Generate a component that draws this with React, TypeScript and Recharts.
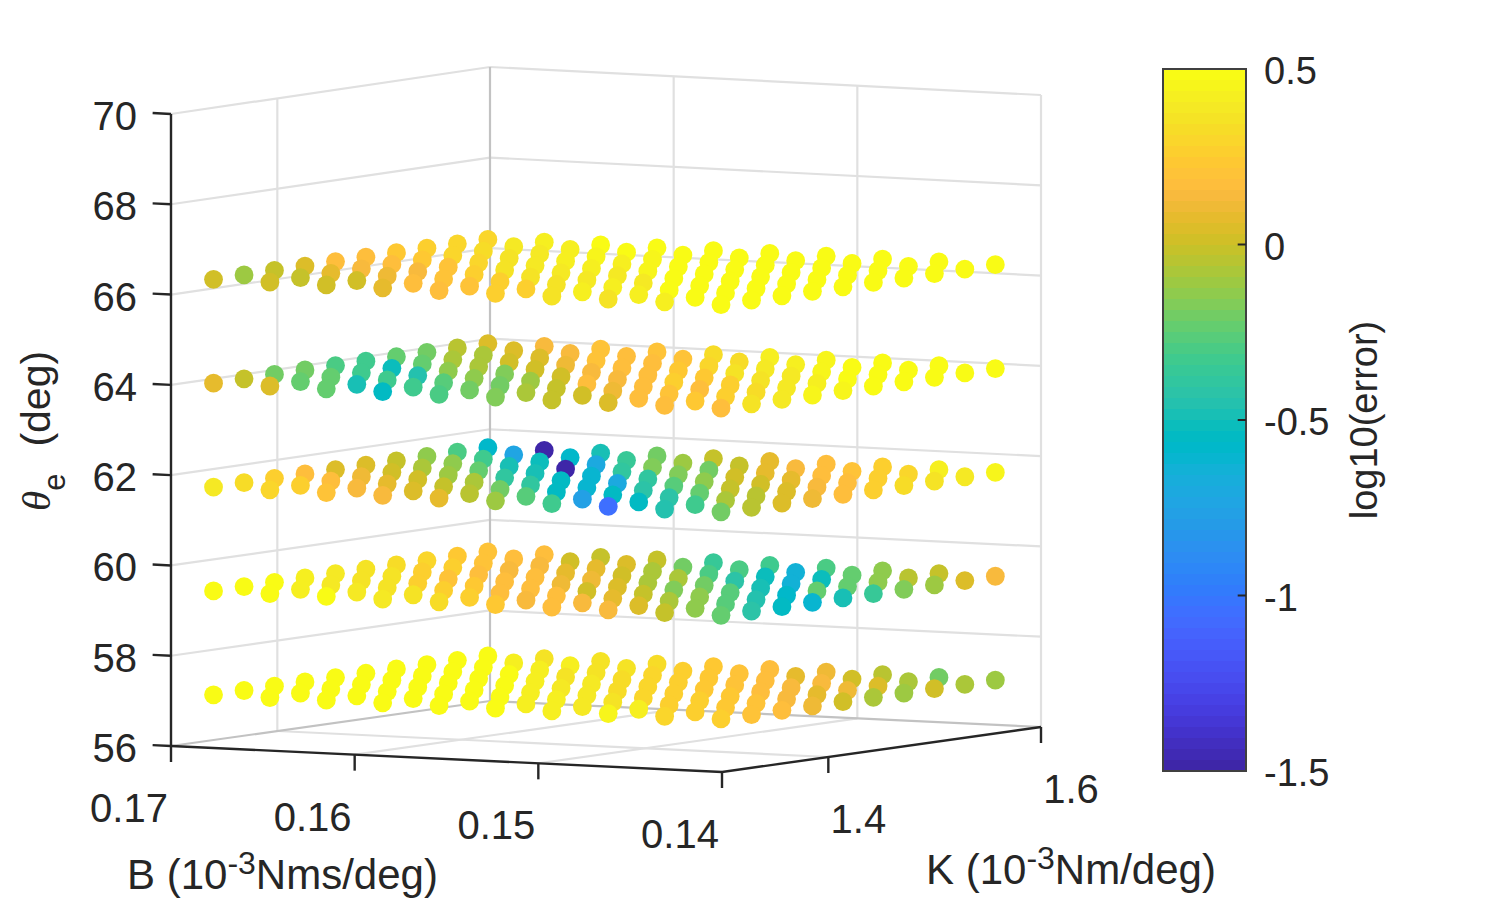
import { ReferenceArea, ReferenceLine, Scatter, ScatterChart, XAxis, YAxis } from "recharts";

// stiffness and damping grid of the parameter sweep, one layer per theta level
const kValues = [1.34, 1.3687, 1.3973, 1.426, 1.4547, 1.4833, 1.512, 1.5407, 1.5693, 1.598];
const bValues = [0.17, 0.16693, 0.16386, 0.16079, 0.15772, 0.15465, 0.15158, 0.14851, 0.14544, 0.14237];
const thetaLevels = [57, 59.3, 61.6, 63.9, 66.2];

// log10(error): one row per B value, one column per K value
const layer57 = [
  [0.5, 0.5, 0.5, 0.5, 0.5, 0.5, 0.5, 0.5, 0.5, 0.48],
  [0.5, 0.5, 0.5, 0.5, 0.5, 0.5, 0.5, 0.48, 0.43, 0.36],
  [0.5, 0.5, 0.5, 0.5, 0.5, 0.5, 0.49, 0.41, 0.41, 0.36],
  [0.5, 0.5, 0.5, 0.5, 0.48, 0.41, 0.37, 0.37, 0.36, 0.34],
  [0.5, 0.49, 0.48, 0.41, 0.4, 0.4, 0.33, 0.31, 0.25, 0.23],
  [0.49, 0.42, 0.42, 0.38, 0.34, 0.31, 0.27, 0.24, 0.2, 0.17],
  [0.42, 0.4, 0.35, 0.29, 0.25, 0.24, 0.2, 0.17, 0.08, 0.1],
  [0.46, 0.41, 0.28, 0.26, 0.22, 0.17, 0.13, 0.15, 0.02, -0.06],
  [0.31, 0.26, 0.23, 0.19, 0.15, 0.08, 0.12, 0.06, -0.09, -0.21],
  [0.25, 0.2, 0.18, 0.11, 0.02, -0.08, -0.1, 0, -0.09, -0.12],
];
const layer59 = [
  [0.49, 0.5, 0.47, 0.42, 0.4, 0.35, 0.33, 0.29, 0.24, 0.2],
  [0.5, 0.43, 0.4, 0.37, 0.36, 0.28, 0.25, 0.19, 0.18, 0.16],
  [0.47, 0.39, 0.37, 0.28, 0.21, 0.18, 0.15, 0.15, 0.03, -0.01],
  [0.39, 0.35, 0.26, 0.24, 0.16, 0.16, 0.08, 0.08, 0.05, -0.03],
  [0.34, 0.27, 0.17, 0.17, 0.12, 0.1, 0.02, -0.08, -0.2, -0.37],
  [0.23, 0.13, 0.18, 0.03, 0.05, -0.08, -0.09, -0.29, -0.29, -0.32],
  [0.16, 0.13, 0.08, -0.03, -0.17, -0.19, -0.41, -0.53, -0.63, -0.29],
  [0.13, 0.06, -0.07, -0.15, -0.28, -0.5, -0.65, -0.53, -0.25, -0.13],
  [-0.03, -0.13, -0.28, -0.44, -0.58, -0.25, -0.24, -0.14, -0.06, -0.02],
  [-0.22, -0.42, -0.55, -0.6, -0.47, -0.37, -0.17, -0.11, 0.05, 0.13],
];
const layer62 = [
  [0.4, 0.32, 0.25, 0.17, 0.06, 0.05, -0.02, -0.15, -0.29, -0.58],
  [0.31, 0.28, 0.18, 0.1, 0.02, -0.07, -0.14, -0.33, -0.72, -1.5],
  [0.2, 0.15, 0.09, 0, -0.1, -0.22, -0.47, -0.53, -0.57, -0.5],
  [0.15, 0.05, -0.03, -0.09, -0.38, -0.47, -1.47, -0.7, -0.36, -0.2],
  [0.08, -0.06, -0.19, -0.4, -0.56, -0.62, -0.4, -0.17, -0.1, -0.01],
  [-0.1, -0.26, -0.56, -0.6, -0.7, -0.4, -0.18, -0.2, -0.01, 0.07],
  [-0.34, -0.77, -0.56, -0.41, -0.26, -0.13, 0, 0.07, 0.15, 0.18],
  [-1.05, -0.54, -0.41, -0.23, -0.03, 0.02, 0.08, 0.16, 0.19, 0.28],
  [-0.46, -0.32, -0.09, -0.04, 0.05, 0.14, 0.18, 0.26, 0.31, 0.41],
  [-0.2, -0.04, 0.04, 0.12, 0.17, 0.25, 0.32, 0.36, 0.4, 0.44],
];
const layer64 = [
  [0.09, -0.01, -0.2, -0.21, -0.3, -0.33, -0.22, -0.2, -0.05, 0.04],
  [0.06, -0.24, -0.23, -0.32, -0.53, -0.22, -0.09, -0.08, 0.06, 0.15],
  [-0.25, -0.47, -0.33, -0.46, -0.13, -0.07, 0.03, 0.04, 0.15, 0.19],
  [-0.55, -0.34, -0.28, -0.14, -0.16, 0, 0.12, 0.2, 0.17, 0.2],
  [-0.31, -0.2, -0.19, -0.1, 0, 0.15, 0.17, 0.17, 0.2, 0.32],
  [-0.17, -0.07, -0.01, 0.16, 0.13, 0.17, 0.22, 0.29, 0.32, 0.42],
  [-0.03, 0.02, 0.1, 0.18, 0.25, 0.24, 0.35, 0.38, 0.41, 0.46],
  [0.05, 0.17, 0.19, 0.16, 0.26, 0.37, 0.39, 0.44, 0.47, 0.5],
  [0.17, 0.23, 0.26, 0.34, 0.39, 0.42, 0.47, 0.5, 0.5, 0.5],
  [0.18, 0.35, 0.38, 0.44, 0.46, 0.5, 0.5, 0.5, 0.5, 0.5],
];
const layer66 = [
  [0, -0.1, -0.02, 0.05, 0.17, 0.18, 0.22, 0.26, 0.3, 0.3],
  [0.02, -0.02, 0.08, 0.14, 0.17, 0.24, 0.29, 0.32, 0.4, 0.42],
  [0, 0.02, 0.1, 0.15, 0.2, 0.3, 0.36, 0.4, 0.43, 0.48],
  [0.08, 0.16, 0.19, 0.27, 0.36, 0.4, 0.41, 0.45, 0.47, 0.5],
  [0.16, 0.2, 0.27, 0.37, 0.38, 0.43, 0.43, 0.46, 0.5, 0.5],
  [0.27, 0.25, 0.37, 0.39, 0.4, 0.44, 0.5, 0.5, 0.5, 0.5],
  [0.37, 0.41, 0.41, 0.4, 0.49, 0.5, 0.5, 0.5, 0.5, 0.5],
  [0.36, 0.42, 0.47, 0.5, 0.5, 0.5, 0.5, 0.5, 0.5, 0.5],
  [0.42, 0.5, 0.5, 0.5, 0.5, 0.5, 0.5, 0.5, 0.5, 0.5],
  [0.5, 0.5, 0.5, 0.5, 0.5, 0.5, 0.5, 0.5, 0.5, 0.5],
];
const layers = [layer57, layer59, layer62, layer64, layer66];

const zTicks = [56, 58, 60, 62, 64, 66, 68, 70];
const bTicks = [0.17, 0.16, 0.15, 0.14];
const kTicks = [1.4, 1.6];
const colorTicks = [-1.5, -1, -0.5, 0, 0.5];

const parula = [
  "#3e26a8", "#402aB4", "#422ebf", "#4332cb", "#4537d5", "#463cde", "#4741e5", "#4747eb",
  "#484df0", "#4752f4", "#4758f8", "#465dfb", "#4563fd", "#426afe", "#3e6fff", "#3875fe",
  "#327bfc", "#2f81f9", "#2d87f7", "#2d8cf3", "#2b91ef", "#2796eb", "#259be7", "#23a0e5",
  "#20a5e3", "#1ca9df", "#18addb", "#12b1d6", "#08b5d0", "#01b8ca", "#02bac3", "#0bbdbc",
  "#18bfb5", "#24c1ae", "#2cc3a7", "#31c69f", "#37c897", "#3fca8e", "#4acb84", "#57cc7a",
  "#64cd6f", "#72cc64", "#81cc59", "#8fcb4d", "#9dc942", "#abc739", "#b9c431", "#c5c22a",
  "#d1bf27", "#dcbd29", "#e6bb2d", "#efba36", "#f8ba3d", "#febe3c", "#fec338", "#fec832",
  "#fccf2e", "#fad62b", "#f7dc27", "#f5e325", "#f5e924", "#f6ef20", "#f7f51b", "#f9fb15",
];

const axisColor = "#262626";
const gridColor = "#e0e0e0";
const boxColor = "#c2c2c2";
const font = "'Liberation Sans', Arial, sans-serif";
const W = 1500;
const H = 900;

function project(b: number, k: number, z: number) {
  const bt = (0.17 - b) / 0.03;
  const kt = (k - 1.3) / 0.3;
  const h = z - 56;
  return {
    u: 171 + 551 * bt + 319 * kt,
    v: 746 + (26 + h / 7) * bt - (45 + h / 7) * kt - h * (632 / 14),
  };
}

function colorOf(v: number) {
  const idx = Math.floor(((v + 1.5) / 2) * 64);
  return parula[Math.min(63, Math.max(0, idx))];
}

// later B rows sit on top of earlier ones, same as the plotting order in the figure
const points: { u: number; v: number; color: string }[] = [];
layers.forEach((rows, l) => {
  rows.forEach((row, j) => {
    row.forEach((err, i) => {
      points.push({ ...project(bValues[j], kValues[i], thetaLevels[l]), color: colorOf(err) });
    });
  });
});

type Seg = { a: { u: number; v: number }; b: { u: number; v: number }; color: string; width: number };
const seg = (a: Seg["a"], b: Seg["b"], color: string, width = 2.2): Seg => ({ a, b, color, width });
const P = project;

const lines: Seg[] = [];
zTicks.slice(1).forEach((z) => {
  lines.push(seg(P(0.17, 1.3, z), P(0.17, 1.6, z), gridColor));
  lines.push(seg(P(0.17, 1.6, z), P(0.14, 1.6, z), gridColor));
});
lines.push(seg(P(0.17, 1.4, 56), P(0.17, 1.4, 70), gridColor));
lines.push(seg(P(0.16, 1.6, 56), P(0.16, 1.6, 70), gridColor));
lines.push(seg(P(0.15, 1.6, 56), P(0.15, 1.6, 70), gridColor));
lines.push(seg(P(0.14, 1.6, 56), P(0.14, 1.6, 70), gridColor));
lines.push(seg(P(0.17, 1.4, 56), P(0.14, 1.4, 56), gridColor));
lines.push(seg(P(0.16, 1.3, 56), P(0.16, 1.6, 56), gridColor));
lines.push(seg(P(0.15, 1.3, 56), P(0.15, 1.6, 56), gridColor));
lines.push(seg(P(0.17, 1.6, 56), P(0.17, 1.6, 70), boxColor));
lines.push(seg(P(0.17, 1.3, 56), P(0.17, 1.6, 56), boxColor));
lines.push(seg(P(0.17, 1.6, 56), P(0.14, 1.6, 56), boxColor));

// front axes and their tick marks
lines.push(seg(P(0.17, 1.3, 56), P(0.17, 1.3, 70), axisColor, 2.4));
lines.push(seg(P(0.17, 1.3, 56), P(0.14, 1.3, 56), axisColor, 2.4));
lines.push(seg(P(0.14, 1.3, 56), P(0.14, 1.6, 56), axisColor, 2.4));
zTicks.forEach((z) => lines.push(seg(P(0.171, 1.3, z), P(0.17, 1.3, z), axisColor, 2.4)));
bTicks.forEach((b) => {
  const p = P(b, 1.3, 56);
  lines.push(seg(p, { u: p.u, v: p.v + 16 }, axisColor, 2.4));
});
kTicks.forEach((k) => {
  const p = P(0.14, k, 56);
  lines.push(seg(p, { u: p.u, v: p.v + 16 }, axisColor, 2.4));
});

const tickLabels = [
  ...zTicks.map((z) => {
    const p = P(0.17, 1.3, z);
    return { u: 137, v: p.v + 2, text: String(z), anchor: "end" };
  }),
  ...bTicks.map((b) => {
    const p = P(b, 1.3, 56);
    return { u: p.u - 42, v: p.v + 62, text: b.toFixed(2), anchor: "middle" };
  }),
  ...kTicks.map((k) => {
    const p = P(0.14, k, 56);
    return { u: p.u + 30, v: p.v + 62, text: k.toFixed(1), anchor: "middle" };
  }),
];

function Dot(props: any) {
  return <circle cx={props.cx} cy={props.cy} r={9.4} fill={props.payload.color} />;
}

function TickText(props: any) {
  const d = props.payload;
  return (
    <text x={props.cx} y={props.cy} textAnchor={d.anchor} dominantBaseline="central" fontFamily={font} fontSize={40} fill={axisColor}>
      {d.text}
    </text>
  );
}

function MainChart() {
  return (
    <div style={{ position: "absolute", left: 0, top: 0, width: W, height: H }}>
      <ScatterChart width={W} height={H} margin={{ top: 0, right: 0, bottom: 0, left: 0 }}>
        <XAxis type="number" dataKey="u" domain={[0, W]} hide />
        <YAxis type="number" dataKey="v" domain={[0, H]} reversed hide />
        {lines.map((l, i) => (
          <ReferenceLine
            key={i}
            segment={[{ x: l.a.u, y: l.a.v }, { x: l.b.u, y: l.b.v }]}
            stroke={l.color}
            strokeWidth={l.width}
            ifOverflow="visible"
          />
        ))}
        <Scatter data={points} shape={Dot} isAnimationActive={false} />
        <Scatter data={tickLabels} shape={TickText} isAnimationActive={false} />
        <text x={127} y={889} fontFamily={font} fontSize={42} fill={axisColor}>
          B (10
          <tspan dy={-15} fontSize={32}>-3</tspan>
          <tspan dy={15}>Nms/deg)</tspan>
        </text>
        <text x={926} y={884} fontFamily={font} fontSize={42} fill={axisColor}>
          K (10
          <tspan dy={-15} fontSize={32}>-3</tspan>
          <tspan dy={15}>Nm/deg)</tspan>
        </text>
        <text x={50} y={511} transform="rotate(-90 50 511)" fontFamily={font} fontSize={41} fill={axisColor}>
          <tspan fontStyle="italic" fontFamily="'Liberation Serif', serif">θ</tspan>
          <tspan dy={15} fontSize={31}>e</tspan>
          <tspan dy={-15} dx={27}>(deg)</tspan>
        </text>
      </ScatterChart>
    </div>
  );
}

function ColorBar() {
  const step = 2 / parula.length;
  return (
    <div style={{ position: "absolute", left: 1100, top: 0, width: 400, height: H }}>
      <ScatterChart width={400} height={H} margin={{ top: 69, right: 0, bottom: 129, left: 63 }}>
        <XAxis type="number" dataKey="x" domain={[0, 1]} hide />
        <YAxis
          type="number"
          dataKey="y"
          orientation="right"
          width={254}
          domain={[-1.5, 0.5]}
          ticks={colorTicks}
          interval={0}
          axisLine={false}
          tickLine={false}
          tickMargin={12}
          tick={{ fontSize: 38, fill: axisColor, fontFamily: font, textAnchor: "start", dy: 2 }}
        />
        {parula.map((c, i) => (
          <ReferenceArea key={c} x1={0} x2={1} y1={-1.5 + i * step} y2={-1.5 + (i + 1) * step} fill={c} fillOpacity={1} stroke="none" shapeRendering="crispEdges" />
        ))}
        <ReferenceArea x1={0} x2={1} y1={-1.5} y2={0.5} fill="none" stroke="#404040" strokeWidth={2} />
        {colorTicks.slice(1, -1).map((t) => (
          <ReferenceLine key={t} segment={[{ x: 0.9, y: t }, { x: 1, y: t }]} stroke={axisColor} strokeWidth={2} />
        ))}
        <Scatter data={[{ x: 0, y: -1.5 }, { x: 1, y: 0.5 }]} shape={() => null} isAnimationActive={false} />
        <text x={277} y={420} transform="rotate(-90 277 420)" textAnchor="middle" fontFamily={font} fontSize={38} fill={axisColor}>
          log10(error)
        </text>
      </ScatterChart>
    </div>
  );
}

export default function App() {
  return (
    <div style={{ position: "relative", width: W, height: H, marginTop: -8, marginLeft: -8, background: "#fff" }}>
      <MainChart />
      <ColorBar />
    </div>
  );
}
